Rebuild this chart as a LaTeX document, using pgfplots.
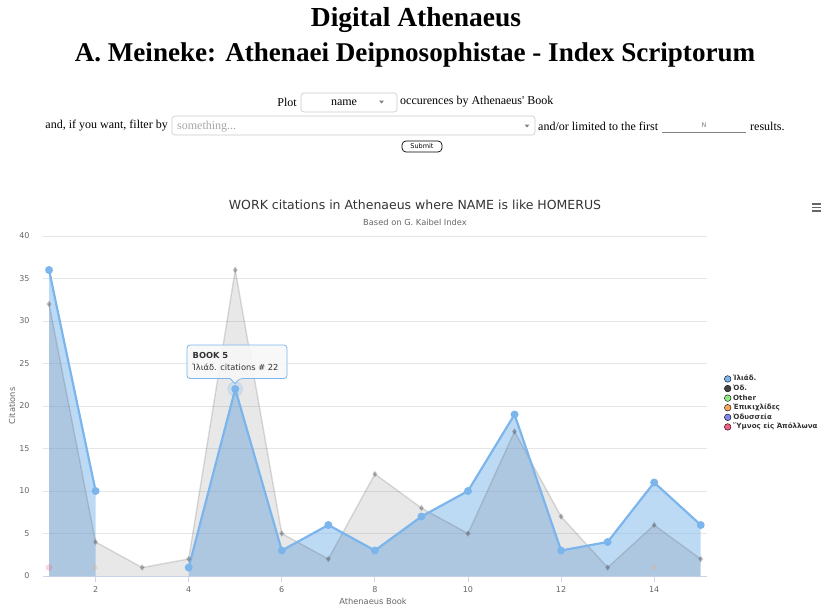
\documentclass[border=0pt]{standalone}
\usepackage{fontspec}
\usepackage{pgfplots}
\pgfplotsset{compat=1.18}
\usepackage{pgfplotstable}
\setmainfont{DejaVu Sans}
\newfontfamily\pagefont{Liberation Serif}
\newfontfamily\hcfont{DejaVu Sans}

\definecolor{hcblue}{HTML}{7CB5EC}
\definecolor{hcdark}{HTML}{434348}
\definecolor{hcgreen}{HTML}{90ED7D}
\definecolor{hcorange}{HTML}{F7A35C}
\definecolor{hcpurple}{HTML}{8085E9}
\definecolor{hcpink}{HTML}{F15C80}
\definecolor{gridgray}{HTML}{E6E6E6}
\definecolor{axiscol}{HTML}{CCD6EB}
\definecolor{labelgray}{HTML}{666666}
\definecolor{titlegray}{HTML}{333333}
\definecolor{boxgray}{HTML}{C8C8C8}
\definecolor{tipfill}{HTML}{F7F7F7}

% citations per book of Athenaeus
\pgfplotstableread{
book iliad od
1  36  32
2  10  4
3  nan 1
4  1   2
5  22  36
6  3   5
7  6   2
8  3   12
9  7   8
10 10  5
11 19  17
12 3   7
13 4   1
14 11  6
15 6   2
}\homerus

\pgfplotstableread{
book epik
2  1
14 1
}\epik

\begin{document}
\begin{tikzpicture}
\path[use as bounding box] (0pt,0pt) rectangle (821pt,-608pt);

% page header and form
\begin{scope}[x=1pt,y=1pt]
  \node[font=\pagefont\bfseries\fontsize{27.5}{30}\selectfont] at (416,-20) {Digital Athenaeus};
  \node[font=\pagefont\bfseries\fontsize{27.1}{30}\selectfont] at (415,-55) {A. Meineke: Athenaei Deipnosophistae - Index Scriptorum};

  \begin{scope}[every node/.style={font=\pagefont\fontsize{12}{14}\selectfont, inner sep=0pt}]
    \node[anchor=east] at (297,-102) {Plot};
    \draw[boxgray, line width=0.6pt, rounded corners=3pt] (301,-93) rectangle (397,-112);
    \node at (344,-103) {name};
    \fill[gray] (379,-100.5) -- (384,-100.5) -- (381.5,-103.5) -- cycle;
    \node[anchor=west] at (400,-102) {occurences by Athenaeus' Book};

    \node[anchor=east] at (168,-126) {and, if you want, filter by};
    \draw[boxgray, line width=0.6pt, rounded corners=3pt] (172,-116) rectangle (535,-135);
    \node[anchor=west, text=gray!70] at (177,-126.5) {something...};
    \fill[gray] (524.5,-124.5) -- (529.5,-124.5) -- (527,-127.5) -- cycle;
    \node[anchor=west] at (538,-126) {and/or limited to the first};
    \draw[gray, line width=1pt] (662,-132) -- (746,-132);
    \node[font=\hcfont\fontsize{6.5}{7}\selectfont, text=gray] at (704,-125) {N};
    \node[anchor=west] at (750,-126) {results.};

    \draw[black, line width=0.7pt, rounded corners=4pt] (402,-141) rectangle (442,-152);
    \node[font=\hcfont\fontsize{6.5}{7}\selectfont] at (422,-146.5) {Submit};
  \end{scope}

  % chart title, subtitle, menu
  \node[font=\hcfont\fontsize{12.5}{14}\selectfont, text=titlegray] at (415,-205) {WORK citations in Athenaeus where NAME is like HOMERUS};
  \node[font=\hcfont\fontsize{8.3}{10}\selectfont, text=labelgray] at (415,-222) {Based on G. Kaibel Index};
  \foreach \yy in {204,207.5,211}
    \draw[labelgray, line width=1.6pt] (812,-\yy) -- (821,-\yy);
\end{scope}

\begin{axis}[
  at={(43pt,-576pt)}, anchor=south west,
  scale only axis, width=664pt, height=340pt,
  xmin=0.87, xmax=15.135, ymin=0, ymax=40,
  axis lines*=left,
  x axis line style={draw=axiscol, line width=0.8pt},
  y axis line style={draw=none},
  xtick={2,4,...,14}, ytick={0,5,...,40},
  tick align=outside, major tick length=6pt,
  xtick style={draw=axiscol, line width=0.8pt},
  ytick style={draw=none},
  ymajorgrids, grid style={gridgray, line width=0.8pt},
  /pgf/number format/assume math mode=true,
  tick label style={font=\hcfont\fontsize{8}{9}\selectfont, text=labelgray},
  xticklabel style={yshift=-1pt},
  yticklabel style={xshift=-4pt},
  xlabel={Athenaeus Book}, ylabel={Citations},
  label style={font=\hcfont\fontsize{8.3}{10}\selectfont, text=labelgray},
  xlabel style={at={(axis description cs:0.497,-0.0735)}, anchor=center},
  ylabel style={at={(axis description cs:-0.0467,0.5)}, anchor=center},
  legend style={at={(axis description cs:1.0256,0.509)}, anchor=west,
    draw=none, fill=none, inner sep=0pt,
    font=\hcfont\bfseries\fontsize{7.1}{8}\selectfont, text=titlegray,
    nodes={inner ysep=0.8pt, text height=6pt, text depth=2pt},
    /tikz/every even column/.append style={column sep=0pt}},
  legend cell align=left,
  legend image code/.code={\fill[#1] (0pt,0pt) circle (3.3pt);},
  clip=false,
]
% Iliad area (null at book 3)
\addplot[draw=none, fill=hcblue, fill opacity=0.5, restrict x to domain=1:2, forget plot]
  table[x=book, y=iliad] {\homerus} \closedcycle;
\addplot[draw=none, fill=hcblue, fill opacity=0.5, restrict x to domain=4:15, forget plot]
  table[x=book, y=iliad] {\homerus} \closedcycle;
% Odyssey area (dimmed)
\addplot[draw=none, fill=hcdark, fill opacity=0.12, forget plot]
  table[x=book, y=od] {\homerus} \closedcycle;
\addplot[hcdark, draw opacity=0.18, line width=1.4pt, mark=diamond*, mark size=2.4pt,
  mark options={draw=none, fill=hcdark, fill opacity=0.35}, forget plot]
  table[x=book, y=od] {\homerus};
% other dimmed series
\addplot[only marks, mark=triangle*, mark size=3pt, hcorange, opacity=0.25, forget plot]
  table[x=book, y=epik] {\epik};
\addplot[only marks, mark=*, mark size=3pt, hcpink, opacity=0.25, forget plot]
  coordinates {(1,1)};
% Iliad line
\addplot[hcblue, line width=2.2pt, mark=*, mark size=2.8pt, unbounded coords=jump, forget plot]
  table[x=book, y=iliad] {\homerus};
% hover halo
\addplot[only marks, mark=*, mark size=7.5pt, hcblue, opacity=0.25, forget plot]
  coordinates {(5,22)};

\addlegendimage{fill=hcblue}\addlegendentry{Ἰλιάδ.}
\addlegendimage{fill=hcdark}\addlegendentry{Ὀδ.}
\addlegendimage{fill=hcgreen}\addlegendentry{Other}
\addlegendimage{fill=hcorange}\addlegendentry{Ἐπικιχλίδες}
\addlegendimage{fill=hcpurple}\addlegendentry{Ὀδυσσεία}
\addlegendimage{fill=hcpink}\addlegendentry{Ὕμνος εἰς Ἀπόλλωνα}
\end{axis}

% tooltip
\begin{scope}[x=1pt,y=1pt]
  \draw[hcblue, line width=0.8pt, fill=tipfill, fill opacity=0.9, rounded corners=3pt]
    (187,-345) -- (287,-345) -- (287,-378.5) -- (240,-378.5) [sharp corners] -- (235,-383.5) -- (230,-378.5) [rounded corners=3pt] -- (187,-378.5) -- cycle;
  \node[anchor=west, inner sep=0pt, font=\hcfont\bfseries\fontsize{8.3}{10}\selectfont, text=titlegray] at (192.5,-355.5) {BOOK 5};
  \node[anchor=west, inner sep=0pt, font=\hcfont\fontsize{8.3}{10}\selectfont, text=titlegray] at (192.5,-367.5) {Ἰλιάδ. citations \# 22};
\end{scope}
\end{tikzpicture}
\end{document}
